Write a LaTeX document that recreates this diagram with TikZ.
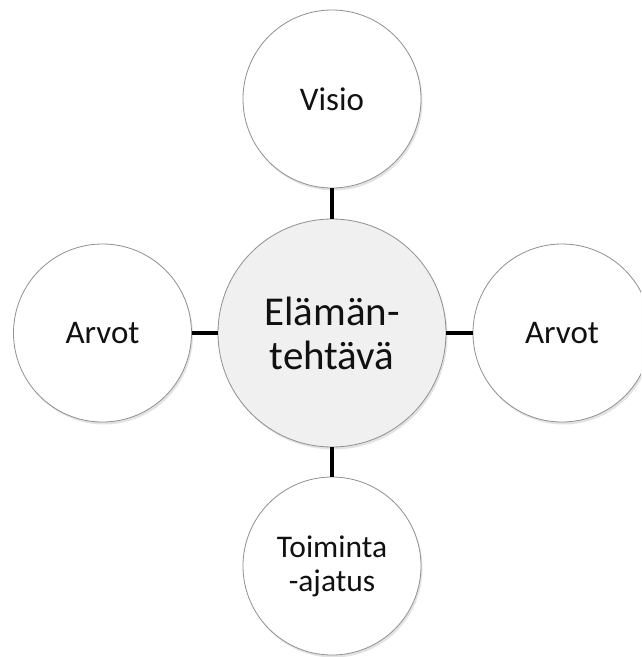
\documentclass[tikz,border=0pt]{standalone}
\usepackage{fontspec}
\setmainfont{Carlito}
\usetikzlibrary{shadows}
\definecolor{rim}{HTML}{909090}
\definecolor{hubfill}{HTML}{F0F0F0}
\definecolor{ink}{HTML}{111111}
\tikzset{
  ball/.style={circle, draw=rim, line width=0.8pt, fill=white, minimum size=178pt,
    inner sep=0pt, align=center, text=ink, font=\fontsize{33}{36}\selectfont,
    drop shadow={shadow xshift=1.5pt, shadow yshift=-2.5pt, opacity=0.22, fill=gray}},
  hub/.style={ball, fill=hubfill, minimum size=228pt, font=\fontsize{41}{44}\selectfont},
  link/.style={draw=black, line width=3.5pt}
}
\begin{document}
\begin{tikzpicture}[x=1pt, y=-1pt]
\useasboundingbox (0,0) rectangle (641,657);
\clip (0,0) rectangle (641,657);
\fill[white] (0,0) rectangle (641,657);
\node[hub] (hub) at (332,333) {Elämän-\\tehtävä};
\node[ball] (top) at (332,99) {Visio};
\node[ball] (left) at (102.5,333) {Arvot};
\node[ball] (right) at (562,333) {Arvot};
\node[ball, font=\fontsize{31.5}{34}\selectfont] (bottom) at (332,566) {Toiminta\\-ajatus};
\draw[link] (top.south) -- (hub.north);
\draw[link] (left.east) -- (hub.west);
\draw[link] (right.west) -- (hub.east);
\draw[link] (bottom.north) -- (hub.south);
\end{tikzpicture}
\end{document}
